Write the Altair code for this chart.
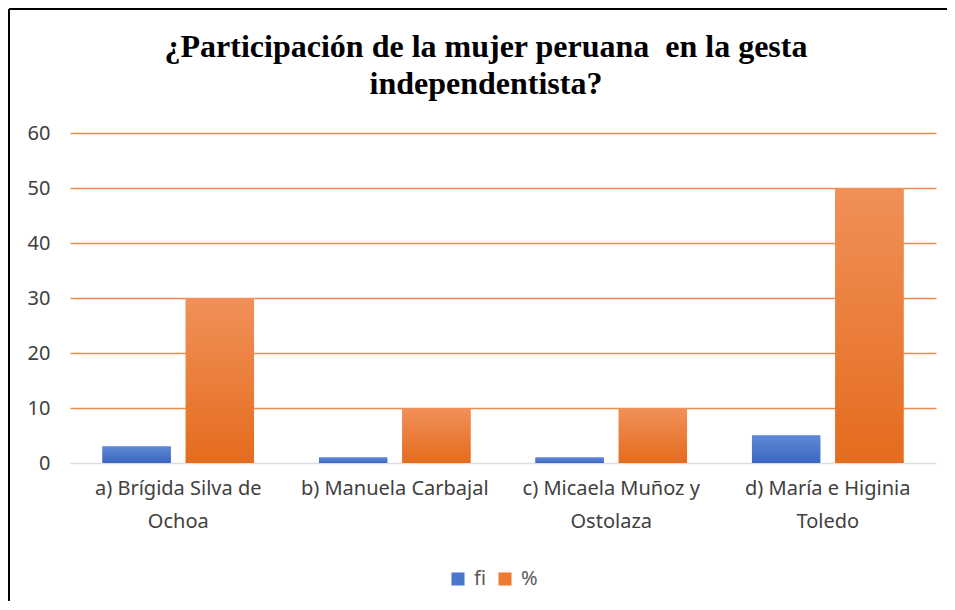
import altair as alt
import pandas as pd

categories = ["a) Brígida Silva de Ochoa", "b) Manuela Carbajal",
              "c) Micaela Muñoz y Ostolaza", "d) María e Higinia Toledo"]
label_lines = [["a) Brígida Silva de", "Ochoa"], ["b) Manuela Carbajal"],
               ["c) Micaela Muñoz y", "Ostolaza"], ["d) María e Higinia", "Toledo"]]
series = ["fi", "%"]
fi_values = [3, 1, 1, 5]
pct_values = [30, 10, 10, 50]
y_ticks = [0, 10, 20, 30, 40, 50, 60]
title_lines = ["¿Participación de la mujer peruana\u00a0 en la gesta", "independentista?"]

rows = []
for c, f, p in zip(categories, fi_values, pct_values):
    rows.append({"cat": c, "serie": "fi", "valor": f})
    rows.append({"cat": c, "serie": "%", "valor": p})
df = pd.DataFrame(rows)

# label expression splitting category names into lines
expr = "datum.label"
for c, lines in zip(categories, label_lines):
    arr = "[" + ",".join("'" + l + "'" for l in lines) + "]"
    expr = f"datum.label == '{c}' ? {arr} : ({expr})"

FONT = "Noto Sans"
FS = 20
TXT = "#404040"
BLUE = "#4A77CC"
ORANGE = "#EC7A32"

x_enc = alt.X("cat:N", sort=categories,
              scale=alt.Scale(paddingInner=0.3, paddingOuter=0.15),
              axis=alt.Axis(title=None, labelAngle=0, domain=False, ticks=False,
                            labelFont=FONT, labelFontSize=FS, labelColor=TXT,
                            labelPadding=15, labelLineHeight=33, labelExpr=expr,
                            labelLimit=300))
xo_enc = alt.XOffset("serie:N", sort=series,
                     scale=alt.Scale(domain=series, paddingInner=0.18))
y_enc = alt.Y("valor:Q", scale=alt.Scale(domain=[0, 60], nice=False),
              axis=alt.Axis(title=None, values=y_ticks, domain=False, ticks=False,
                            labelFont=FONT, labelFontSize=FS, labelColor=TXT,
                            labelPadding=20,
                            gridColor={"condition": {"test": "datum.value === 0",
                                                     "value": "#D9DEE6"},
                                       "value": "#F08A4C"},
                            gridWidth=1.5, gridOpacity=1))

base = alt.Chart(df).mark_bar().encode(
    x=x_enc, xOffset=xo_enc, y=y_enc,
    color=alt.Color("serie:N", sort=series,
                    scale=alt.Scale(domain=series, range=[BLUE, ORANGE]),
                    legend=alt.Legend(title=None, orient="none", direction="horizontal",
                                      legendX=378, legendY=436,
                                      symbolType="square", symbolSize=170,
                                      symbolStrokeWidth=0, symbolOpacity=1,
                                      labelFont=FONT, labelFontSize=FS, labelColor="#595959",
                                      columnPadding=8, labelOffset=6))
)

def grad(top, bottom):
    return alt.Gradient(gradient="linear", x1=0, x2=0, y1=0, y2=1,
                        stops=[alt.GradientStop(color=top, offset=0),
                               alt.GradientStop(color=bottom, offset=1)])

fi_layer = alt.Chart(df).transform_filter("datum.serie == 'fi'").mark_bar(
    color=grad("#5E8AD5", "#3B66C1")).encode(x=x_enc, xOffset=xo_enc, y=y_enc)
pct_layer = alt.Chart(df).transform_filter("datum.serie == '%'").mark_bar(
    color=grad("#F19059", "#E46C1D")).encode(x=x_enc, xOffset=xo_enc, y=y_enc)

frame_data = alt.Data(values=[{"k": 1}])
frame_left = alt.Chart(frame_data).mark_rule(color="black", strokeWidth=2, clip=False).encode(
    x=alt.value(-61), x2=alt.value(-61), y=alt.value(-124), y2=alt.value(470))
frame_top = alt.Chart(frame_data).mark_rule(color="black", strokeWidth=2, clip=False).encode(
    x=alt.value(-61), x2=alt.value(890), y=alt.value(-124), y2=alt.value(-124))
title_text = alt.Chart(frame_data).mark_text(
    text=title_lines, font="Liberation Serif", fontSize=32, fontWeight="bold",
    color="black", align="center", baseline="alphabetic", lineHeight=37, clip=False
).encode(x=alt.value(416), y=alt.value(-76))

chart = alt.layer(base, fi_layer, pct_layer, frame_left, frame_top, title_text).properties(
    width=866, height=330,
    padding={"left": 62, "top": 125, "right": 11, "bottom": 138},
    autosize=alt.AutoSizeParams(type="none"),
).configure_view(stroke=None)

chart.save("out.html", embed_options={"renderer": "svg", "actions": False})
